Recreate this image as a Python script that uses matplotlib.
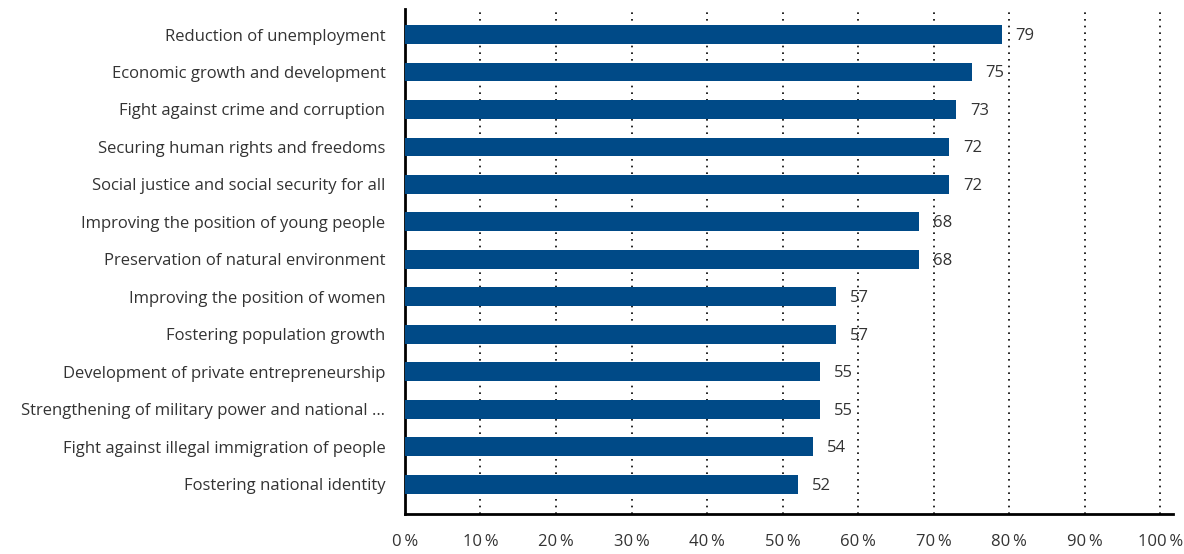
import matplotlib.pyplot as plt
import numpy as np

plt.rcParams['font.family'] = ['Open Sans', 'DejaVu Sans']

# data
categories = [
    "Reduction of unemployment",
    "Economic growth and development",
    "Fight against crime and corruption",
    "Securing human rights and freedoms",
    "Social justice and social security for all",
    "Improving the position of young people",
    "Preservation of natural environment",
    "Improving the position of women",
    "Fostering population growth",
    "Development of private entrepreneurship",
    "Strengthening of military power and national \u2026",
    "Fight against illegal immigration of people",
    "Fostering national identity",
]
values = [79, 75, 73, 72, 72, 68, 68, 57, 57, 55, 55, 54, 52]
xticks = [0, 10, 20, 30, 40, 50, 60, 70, 80, 90, 100]
xtick_labels = [f"{t}\u2009%" for t in xticks]

bar_color = "#004a87"
text_color = "#333333"

fig = plt.figure(figsize=(11.84, 5.54), dpi=100)
ax = fig.add_axes([0.342, 0.072, 0.649, 0.911])

y = np.arange(len(categories))
ax.barh(y, values, height=0.5, color=bar_color, zorder=3)

for yi, v in zip(y, values):
    ax.annotate(str(v), (v, yi), xytext=(10, -1), textcoords="offset points",
                va="center", ha="left", fontsize=12, color=text_color, zorder=4)

ax.set_xlim(0, 101.7)
ax.set_ylim(12.8, -0.67)
ax.set_xticks(xticks)
ax.set_xticklabels(xtick_labels, fontsize=12, color=text_color)
ax.set_yticks(y)
ax.set_yticklabels(categories, fontsize=12, color=text_color)
ax.tick_params(axis="y", length=0, pad=14)
ax.tick_params(axis="x", length=0, pad=14)

for t in xticks[1:]:
    ax.axvline(t, color="black", linestyle=(0, (1, 3)), linewidth=1.2, zorder=1)

for s in ["top", "right"]:
    ax.spines[s].set_visible(False)
ax.spines["left"].set_linewidth(2)
ax.spines["bottom"].set_linewidth(2)

fig.savefig("out.png", dpi=100)
